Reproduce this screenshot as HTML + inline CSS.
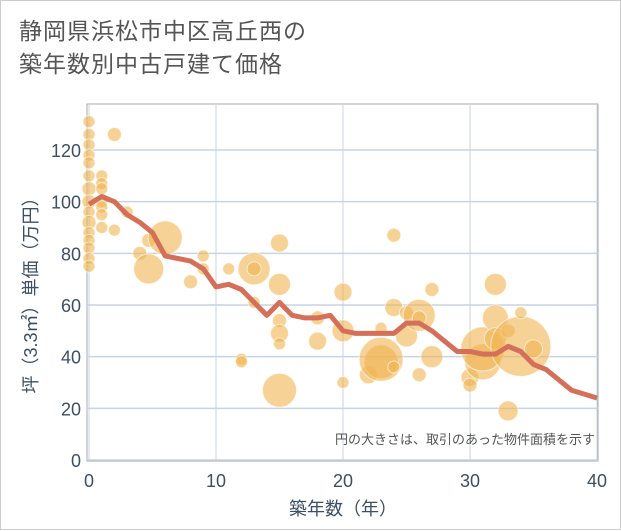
<!DOCTYPE html>
<html><head><meta charset="utf-8"><style>
body{margin:0;background:#fff;}
#wrap{position:relative;width:619px;height:528px;border:1px solid #ccc;background:#fff;font-family:"Liberation Sans","Noto Sans CJK JP",sans-serif;}
#title{position:absolute;left:18px;top:14px;font-size:23px;line-height:33px;color:#555;letter-spacing:1px;}
svg{position:absolute;left:0;top:0;}
</style></head><body>
<div id="wrap">
<div id="title">静岡県浜松市中区高丘西の<br>築年数別中古戸建て価格</div>
<svg id="chart" width="621" height="530"></svg>
</div>
<script>
const xTicks=[0,10,20,30,40];
const yTicks=[0,20,40,60,80,100,120];
const lineX=[0,1,2,3,4,5,6,7,8,9,10,11,12,13,14,15,16,17,18,19,20,21,22,23,24,25,26,27,28,29,30,31,32,33,34,35,36,37,38,39,40];
const lineY=[99,102,100,95,92,88,79,78,77,74,67,68,66,61,56,61,56,55,55,56,50,49,49,49,49,53,53,50,46,42,42,41,41,44,42,37,35,31,27,25.5,24];
const bubX=[0,0,0,0,0,0,0,0,0,0,0,0,0,0,0,1,1,1,1,1,1,1,2,2,3,4,4.7,4.7,6,9,9,8,11,12,12,13,13,13,15,15,15,15,15,15,18,18,20,20,20,22,23,23,23,24,24,24,25,25,26,26,26,27,27,30,30,31,31,32,32,32,33,33,34,34,35];
const bubY=[131,126,122,118,115,110,105,100,96,92,88,85,82,78,75,110,107,105,100,98,95,90,126,89,96,80,85,74,86,79,74,69,74,39,38,74,74,61,84,68,54,49,45,27,55,46,65,50,30,33,38,39,51,36,59,87,57,48,56,55,33,40,66,32,29,38,43,68,55,47,19,50,44,57,43];
const bubR=[6,6,6,6,6,6,7,7,6,7,6,6,6,6,6,6,6,6,6,6,6,6,7,6,6,7,7,15,17,6,6,7,6,6,6,16,7,6,9,11,7,9,6,17,7,9,9,11,6,9,17,22,6,6,9,7,7,11,16,7,7,11,7,9,7,18,22,11,13,11,10,7,30,6,9];
const NS="http://www.w3.org/2000/svg";
const svg=document.getElementById('chart');
const L=88,R=596,Y0=459,Ytop=103;
const sx=v=>L+(R-L)*v/40;
const sy=v=>Y0-(Y0-149)*v/120;
function mk(t,a){const e=document.createElementNS(NS,t);for(const k in a)e.setAttribute(k,a[k]);svg.appendChild(e);return e;}
const bg=mk('rect',{x:86,y:Ytop,width:511,height:Y0-Ytop+1,fill:'#fff',stroke:'#aaa'});


xTicks.forEach(t=>{
const g=mk('line',{x1:sx(t),x2:sx(t),y1:Ytop,y2:Y0,stroke:'#c8d4e2','stroke-width':1});


const tx=mk('text',{x:sx(t),y:486,'text-anchor':'middle','font-size':18,fill:'#3d4f63'});tx.textContent=t;


});
yTicks.forEach(t=>{
const g=mk('line',{x1:86,x2:597,y1:sy(t),y2:sy(t),stroke:'#c8d4e2','stroke-width':1.5});


const tx=mk('text',{x:80,y:sy(t)+7,'text-anchor':'end','font-size':18,fill:'#3d4f63'});tx.textContent=t;


});
for(let i=0;i<bubX.length;i++){
const c=mk('circle',{cx:sx(bubX[i]),cy:sy(bubY[i]),r:bubR[i],fill:'rgba(240,180,80,0.6)',stroke:'rgba(255,255,255,0.6)','stroke-width':1});


}
const p=mk('polyline',{points:lineX.map((x,i)=>sx(x)+','+sy(lineY[i])).join(' '),fill:'none',stroke:'#d4705a','stroke-width':5,'stroke-linejoin':'round'});


const note=mk('text',{x:594,y:443,'text-anchor':'end','font-size':13,fill:'#555'});note.textContent='円の大きさは、取引のあった物件面積を示す';


const xt=mk('text',{x:342,y:514,'text-anchor':'middle','font-size':18,fill:'#3d4f63'});xt.textContent='築年数（年）';


const yt=mk('text',{x:0,y:0,'text-anchor':'middle','font-size':18,fill:'#3d4f63',transform:'translate(36,290) rotate(-90)'});yt.textContent='坪（3.3㎡）単価（万円）';


</script>
</body></html>
